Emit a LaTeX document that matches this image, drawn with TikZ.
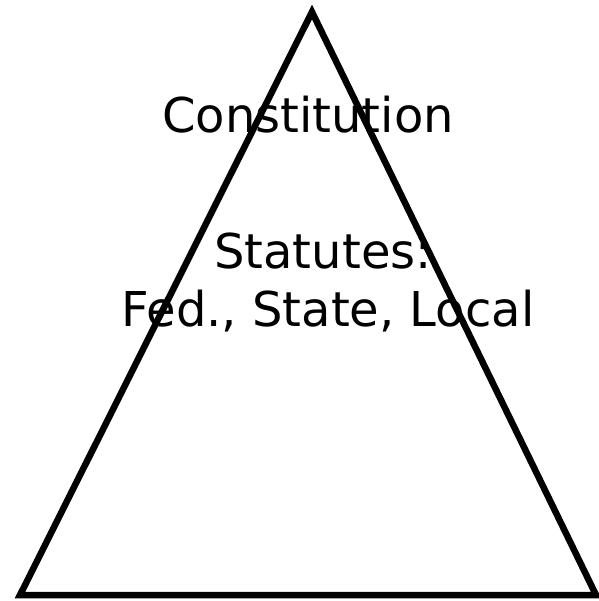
\documentclass[tikz,border=0pt]{standalone}
\usepackage{fontspec}
\setmainfont{DejaVu Sans}
\begin{document}
\begin{tikzpicture}[x=1pt,y=-1pt,
  lbl/.style={inner sep=0pt,anchor=base,font=\fontsize{48}{57.6}\selectfont},
  edge/.style={line width=6.5pt,line join=miter}]
\useasboundingbox (0,0) rectangle (598,601);
\coordinate (apex) at (312,12);
\coordinate (bl) at (20,595);
\coordinate (br) at (596,595);
\draw[edge] (apex) -- (bl) -- (br) -- cycle;
\node[lbl] (const) at (308,133) {Constitution};
\node[lbl] (stat) at (323,268) {Statutes:};
\node[lbl] (levels) at (328,326) {Fed., State, Local};
\end{tikzpicture}
\end{document}
